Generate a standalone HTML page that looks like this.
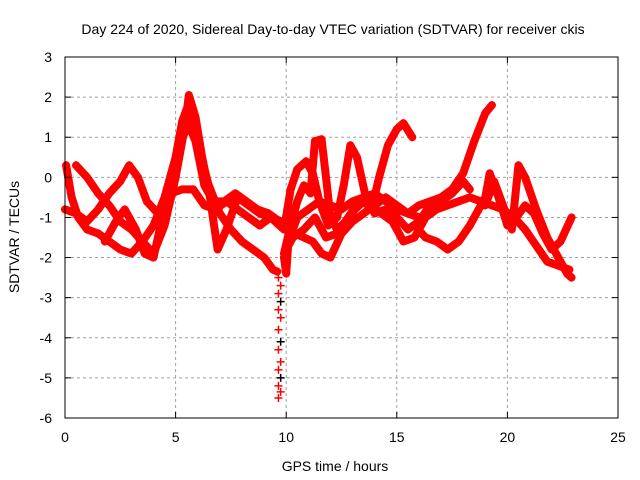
<!DOCTYPE html>
<html><head><meta charset="utf-8"><style>
body{margin:0;background:#fff}
svg{display:block;font-family:"Liberation Sans",sans-serif}
</style></head><body>
<svg id="c" width="640" height="480">
<rect width="640" height="480" fill="#fff"/>
<text x="333" y="34" font-size="14" text-anchor="middle">Day 224 of 2020, Sidereal Day-to-day VTEC variation (SDTVAR) for receiver ckis</text>
<text x="335" y="471" font-size="14" text-anchor="middle">GPS time / hours</text>
<text transform="translate(19,237) rotate(-90)" font-size="14" text-anchor="middle">SDTVAR / TECUs</text>
<g id="grid"></g><g id="marks"></g><g id="axes"></g>
</svg>
<script>
const xTicks=[0,5,10,15,20,25];
const yTicks=[3,2,1,0,-1,-2,-3,-4,-5,-6];
const trackA=[[0.05,0.3],[0.3,-0.5],[0.6,-1.0],[1.0,-1.3],[1.5,-1.4],[2.0,-1.6],[2.5,-1.8],[3.0,-1.9],[3.5,-1.6],[4.0,-1.2],[4.5,-0.5],[5.0,0.5],[5.3,1.4],[5.5,1.7],[6.0,0.8],[6.5,-0.2],[7.0,-0.9],[7.5,-1.3],[8.0,-1.6],[8.5,-1.8],[9.0,-2.0],[9.4,-2.3],[9.6,-2.35]];
const trackB=[[0.5,0.3],[1,0.0],[1.5,-0.4],[2,-0.7],[2.5,-1.1],[3,-1.3],[3.5,-1.6],[4,-1.9],[4.5,-1.2],[5,0.0],[5.4,1.2],[5.6,2.05],[5.9,1.5],[6.2,0.5],[6.5,-0.3],[6.9,-1.8],[7.3,-1.3],[7.8,-0.5],[8.3,-0.7],[8.8,-0.9],[9.3,-1.0],[9.8,-1.1],[10.3,-1.5],[10.8,-1.3],[11.3,-1.0],[11.8,-1.5],[12.3,-1.4],[12.8,-1.0],[13.3,-0.6],[13.8,-0.7],[14.3,-0.9],[14.8,-1.1],[15.3,-1.6],[15.8,-1.5],[16.3,-1.0],[16.8,-0.8],[17.3,-0.7],[17.8,-0.6],[18.3,-0.5],[18.8,-0.6],[19.3,-0.7],[19.8,-0.8],[20.3,-1.0],[20.8,-1.3],[21.3,-1.7],[21.8,-2.1],[22.3,-2.2],[22.8,-2.3]];
const trackC=[[0,-0.8],[0.5,-0.9],[1,-1.1],[1.5,-0.8],[2,-0.4],[2.5,-0.1],[2.9,0.3],[3.3,0.0],[3.7,-0.6],[4.2,-0.9],[4.6,-0.5],[5.0,0.2],[5.3,1.0],[5.6,1.3],[5.9,0.9],[6.3,-0.2],[6.7,-0.6],[7.2,-0.6],[7.7,-0.4],[8.2,-0.6],[8.7,-0.8],[9.2,-0.9],[9.7,-1.1]];
const trackD=[[1.8,-1.6],[2.3,-1.1],[2.7,-0.8],[3.2,-1.3],[3.6,-1.9],[4.0,-2.0],[4.4,-1.0],[4.8,-0.4],[5.3,-0.3],[5.8,-0.3],[6.3,-0.7],[6.8,-0.8],[7.3,-0.6],[7.8,-0.8],[8.3,-1.0],[8.8,-1.2],[9.3,-1.0],[9.9,-1.3],[10.2,-0.3],[10.5,0.2],[10.9,0.4],[11.2,0.1],[11.5,-0.6],[11.9,-1.2],[12.3,-1.0],[12.6,-0.2],[12.9,0.8],[13.2,0.5],[13.6,-0.5],[14.0,-0.9],[14.5,-0.8],[15.0,-1.0],[15.5,-1.3],[16.0,-1.1],[16.5,-0.7],[17.0,-0.6],[17.5,-0.4],[18.0,-0.1],[18.3,-0.3]];
const trackE=[[9.9,-1.9],[10.2,-1.2],[10.5,-0.6],[10.8,-0.2],[11.1,-0.4],[11.3,0.9],[11.6,0.95],[11.8,0.0],[12.0,-1.0],[12.3,-1.3],[12.7,-1.1],[13.1,-0.8],[13.5,-0.6],[13.9,-0.7],[14.2,0.0],[14.6,0.8],[15.0,1.2],[15.3,1.35],[15.7,1.0]];
const trackF=[[10.0,-1.8],[10.4,-1.4],[10.8,-1.5],[11.2,-1.6],[11.6,-1.9],[12.0,-2.0],[12.5,-1.4],[13.0,-1.1],[13.5,-0.9],[14.0,-0.7],[14.5,-0.5],[15.0,-0.7],[15.5,-0.9],[16.0,-0.7],[16.5,-0.6],[17.0,-0.5],[17.5,-0.3],[18.0,0.1],[18.5,0.9],[19.0,1.6],[19.3,1.8]];
const trackG=[[15.8,-1.2],[16.3,-1.5],[16.8,-1.6],[17.3,-1.8],[17.8,-1.6],[18.3,-1.2],[18.6,-0.9],[19.0,-0.5],[19.2,0.1],[19.6,-0.5],[20.0,-1.2],[20.4,-1.0],[20.8,-0.7],[21.2,-0.9],[21.6,-1.4],[22.0,-1.8],[22.4,-1.6],[22.9,-1.0]];
const trackH=[[19.0,-0.7],[19.4,-0.1],[19.8,-0.7],[20.2,-1.3],[20.5,0.3],[20.8,0.0],[21.3,-0.8],[21.8,-1.5],[22.3,-2.0],[22.7,-2.4],[22.9,-2.5]];
const trackI=[[9.9,-2.0],[10.0,-2.4],[10.1,-1.6],[10.5,-1.0],[11.0,-0.8],[11.5,-0.6],[12.0,-0.7],[12.5,-0.8],[13.0,-0.6],[13.5,-0.5],[14.0,-0.4],[14.5,-0.6],[15.0,-0.8],[15.5,-0.9],[16.0,-1.0]];
const spike=[-2.5,-2.7,-2.9,-3.1,-3.3,-3.5,-3.8,-4.1,-4.3,-4.6,-4.8,-5.0,-5.2,-5.35,-5.5];
const spikeX=[9.65,9.75];
const X0=65,X1=618,Y0=57,Y1=418;
const sx=v=>X0+(v-0)/25*(X1-X0);
const sy=v=>Y0+(3-v)/9*(Y1-Y0);
const NS='http://www.w3.org/2000/svg';
function mk(t,a,p){const e=document.createElementNS(NS,t);for(const k in a)e.setAttribute(k,a[k]);p.appendChild(e);return e;}
const grid=document.getElementById('grid'),axes=document.getElementById('axes'),marks=document.getElementById('marks');
xTicks.forEach(t=>{const x=sx(t);
 if(t>0&&t<25){const g=mk('line',{x1:x,x2:x,y1:Y0,y2:Y1,stroke:'#a0a0a0','stroke-dasharray':'3,3'},grid);
 
 }
 mk('line',{x1:x,x2:x,y1:Y1,y2:Y1-6,stroke:'#000'},axes);mk('line',{x1:x,x2:x,y1:Y0,y2:Y0+6,stroke:'#000'},axes);
 const l=mk('text',{x:x,y:442,'font-size':14,'text-anchor':'middle'},axes);l.textContent=t;
 
 });
yTicks.forEach(t=>{const y=sy(t);
 if(t<3&&t>-6){const g=mk('line',{x1:X0,x2:X1,y1:y,y2:y,stroke:'#a0a0a0','stroke-dasharray':'3,3'},grid);
 
 }
 mk('line',{x1:X0,x2:X0+6,y1:y,y2:y,stroke:'#000'},axes);mk('line',{x1:X1,x2:X1-6,y1:y,y2:y,stroke:'#000'},axes);
 const l=mk('text',{x:52,y:y+5,'font-size':14,'text-anchor':'end'},axes);l.textContent=t;
 
 });
const fr=mk('rect',{x:X0,y:Y0,width:X1-X0,height:Y1-Y0,fill:'none',stroke:'#000'},axes);


function plus(x,y,c,g){mk('path',{d:`M${x-4} ${y}h8M${x} ${y-4}v8`,stroke:c,'stroke-width':1.5},g);}
[trackA,trackB,trackC,trackD,trackE,trackF,trackG,trackH,trackI].forEach((tr,i)=>{
 const g=mk('g',{},marks);
 
 
 mk('polyline',{points:tr.map(p=>sx(p[0])+','+sy(p[1])).join(' '),fill:'none',stroke:'#ff0000','stroke-width':8,'stroke-linejoin':'round','stroke-linecap':'round'},g);
 tr.forEach(p=>plus(sx(p[0]),sy(p[1]),'#ff0000',g));
});
const sg=mk('g',{},marks);


spike.forEach((v,i)=>plus(sx(spikeX[i%2]),sy(v),i%4==3?'#000':'#ff0000',sg));
</script>
</body></html>
